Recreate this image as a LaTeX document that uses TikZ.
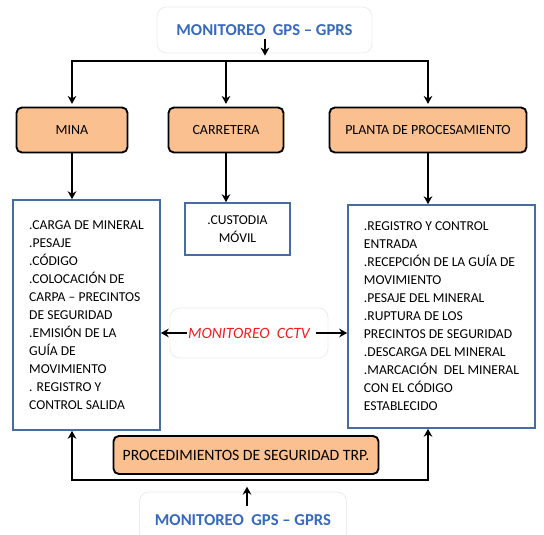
\documentclass[tikz,border=0pt]{standalone}
\usepackage{fontspec}
\setmainfont{Carlito}
\usepackage{tikz}
\usetikzlibrary{arrows.meta}

\definecolor{naranja}{RGB}{250,192,144}
\definecolor{azulborde}{RGB}{70,108,162}
\definecolor{azulgps}{RGB}{55,105,190}
\definecolor{rojocctv}{RGB}{240,30,30}

\tikzset{
  etapa/.style={draw=black, line width=1.4pt, rounded corners=4pt, fill=naranja, font=\fontsize{10.5}{12}\selectfont, inner sep=2pt},
  lista/.style={draw=azulborde, line width=1.2pt, align=left, font=\fontsize{10.2}{13.5}\selectfont, inner sep=0pt},
  marco/.style={draw=gray!15, line width=0.6pt, rounded corners=7pt},
  flecha/.style={line width=1.5pt, -{Stealth[length=6pt,width=6.5pt]}},
}

\begin{document}
\begin{tikzpicture}[x=0.75pt,y=0.75pt,yscale=-1,xscale=1]
        \useasboundingbox (0,0) rectangle (544,535);

        % monitoreo gps arriba y abajo
        \node [marco, minimum width=161.25pt, minimum height=34.5pt, text=azulgps, font=\fontsize{12.5}{14}\selectfont\bfseries] (gpsarriba) at (264.5,30) {MONITOREO\ \ GPS – GPRS};
        \node [marco, minimum width=155.25pt, minimum height=42pt, text=azulgps, font=\fontsize{12.5}{14}\selectfont\bfseries] (gpsabajo) at (243,520) {MONITOREO\ \ GPS – GPRS};
        \coordinate (salearriba) at (265,39);
        \coordinate (busarriba) at (265,61);
        \coordinate (saleabajo) at (247,506);
        \coordinate (busabajo) at (247,480);

        % etapas
        \node [etapa, minimum width=83.25pt, minimum height=33.75pt] (mina) at (72,130) {MINA};
        \node [etapa, minimum width=86.25pt, minimum height=33.75pt] (carretera) at (226,130) {CARRETERA};
        \node [etapa, minimum width=147.75pt, minimum height=33.75pt] (planta) at (428,130) {PLANTA DE PROCESAMIENTO};
        \node [etapa, minimum width=198.75pt, minimum height=28.5pt, font=\fontsize{11.8}{13}\selectfont] (seguridad) at (246,455) {PROCEDIMIENTOS DE SEGURIDAD TRP.};

        % listas
        \node [lista, minimum width=110.25pt, minimum height=172.5pt] (izq) at (86.5,315) {.CARGA DE MINERAL\\.PESAJE\\.CÓDIGO\\.COLOCACIÓN DE\\CARPA – PRECINTOS\\DE SEGURIDAD\\.EMISIÓN DE LA\\GUÍA DE\\MOVIMIENTO\\. REGISTRO Y\\CONTROL SALIDA};
        \node [lista, align=center, minimum width=78.75pt, minimum height=39pt] (custodia) at (237.5,229) {.CUSTODIA\\MÓVIL};
        \node [lista, minimum width=140.25pt, minimum height=167.25pt] (der) at (441.5,316.5) {.REGISTRO Y CONTROL\\ENTRADA\\.RECEPCIÓN DE LA GUÍA DE\\MOVIMIENTO\\.PESAJE DEL MINERAL\\.RUPTURA DE LOS\\PRECINTOS DE SEGURIDAD\\.DESCARGA DEL MINERAL\\.MARCACIÓN\ \ DEL MINERAL\\CON EL CÓDIGO\\ESTABLECIDO};

        \node [marco, minimum width=118.5pt, minimum height=37.5pt, text=rojocctv, font=\fontsize{11.8}{13}\selectfont\itshape] (cctv) at (249,333) {MONITOREO\ \ CCTV};

        % flechas
        \draw [flecha, shorten >=4pt] (salearriba) -- (busarriba);
        \draw [flecha, shorten >=2pt] (busarriba) -| (mina.north);
        \draw [flecha, shorten >=2pt] (busarriba) -| (planta.north);
        \draw [flecha, shorten >=2pt] (busarriba -| carretera.north) -- (carretera.north);
        \draw [flecha] (mina.south) -- (mina.south |- izq.north);
        \draw [flecha] (carretera.south) -- (carretera.south |- custodia.north);
        \draw [flecha] (planta.south) -- (planta.south |- der.north);
        \draw [flecha] ([xshift=12.75pt]cctv.west) -- (cctv.west -| izq.east);
        \draw [flecha] ([xshift=-9pt]cctv.east) -- (cctv.east -| der.west);
        \draw [flecha] (busabajo) -| (mina.south |- izq.south);
        \draw [flecha] (busabajo) -| (planta.south |- der.south);
        \draw [flecha, shorten >=5pt] (saleabajo) -- (busabajo);
    \end{tikzpicture}
\end{document}
